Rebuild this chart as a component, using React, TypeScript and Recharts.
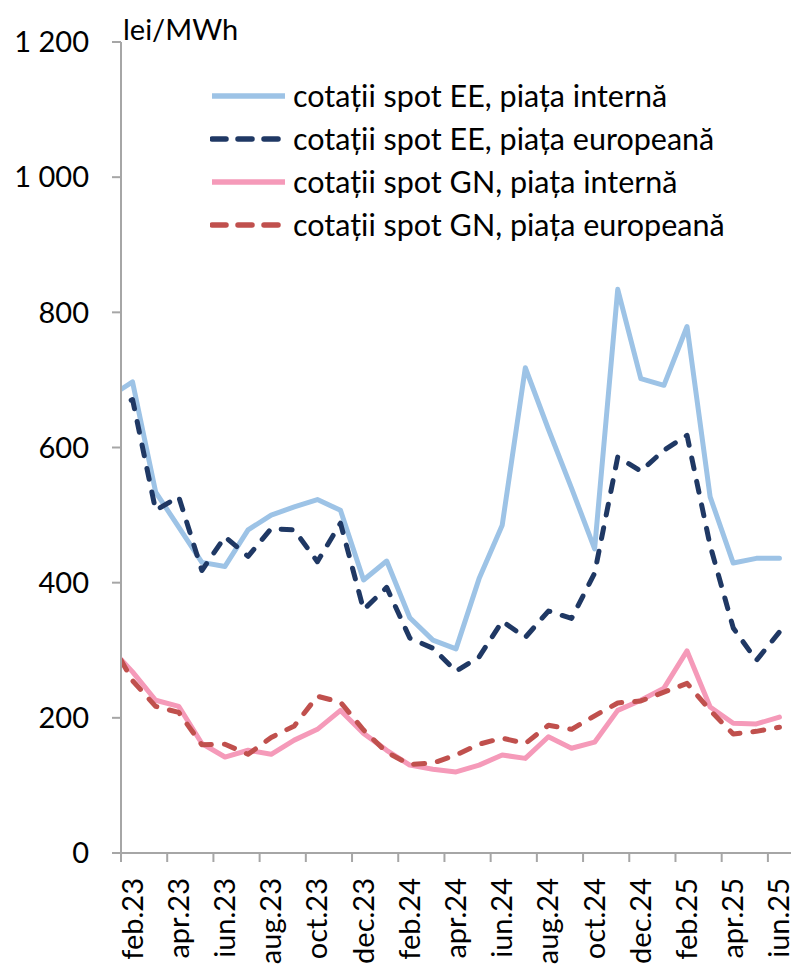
import { LineChart, Line, XAxis, YAxis, Legend } from "recharts"

// luni (ian.23 e doar ca linia să intre din stânga axei, e tăiată de zona graficului)
const months = [
  "ian.23", "feb.23", "mar.23", "apr.23", "mai.23", "iun.23", "iul.23", "aug.23",
  "sep.23", "oct.23", "noi.23", "dec.23", "ian.24", "feb.24", "mar.24", "apr.24",
  "mai.24", "iun.24", "iul.24", "aug.24", "sep.24", "oct.24", "noi.24", "dec.24",
  "ian.25", "feb.25", "mar.25", "apr.25", "mai.25", "iun.25"
]

const tickLabels = [
  "feb.23", "apr.23", "iun.23", "aug.23", "oct.23", "dec.23", "feb.24", "apr.24",
  "iun.24", "aug.24", "oct.24", "dec.24", "feb.25", "apr.25", "iun.25"
]

const yTicks = [0, 200, 400, 600, 800, 1000, 1200]

const eeIntern = [675, 697, 534, 482, 430, 424, 478, 500, 512, 523, 507, 404, 432, 348, 315, 302, 406, 485, 718, 627, 540, 450, 834, 702, 692, 779, 527, 429, 436, 436]
const eeEuropean = [655, 671, 507, 527, 418, 468, 439, 480, 478, 431, 488, 360, 393, 318, 303, 269, 290, 343, 319, 358, 347, 414, 586, 565, 596, 618, 455, 333, 285, 327]
const gnIntern = [305, 268, 226, 217, 162, 142, 152, 146, 167, 183, 211, 177, 152, 130, 124, 120, 130, 145, 140, 172, 155, 164, 211, 226, 244, 299, 216, 192, 191, 201]
const gnEuropean = [316, 255, 217, 208, 160, 161, 146, 171, 188, 232, 223, 182, 149, 131, 133, 145, 161, 170, 162, 189, 183, 203, 222, 225, 238, 251, 211, 176, 180, 186]

const series = [
  { key: "eeIntern", name: "cotații spot EE, piața internă", color: "#9DC3E6", dashed: false },
  { key: "eeEuropean", name: "cotații spot EE, piața europeană", color: "#1F3864", dashed: true },
  { key: "gnIntern", name: "cotații spot GN, piața internă", color: "#F59AB9", dashed: false },
  { key: "gnEuropean", name: "cotații spot GN, piața europeană", color: "#C0504D", dashed: true }
]

const data = months.map((m, i) => ({
  idx: i,
  month: m,
  eeIntern: eeIntern[i],
  eeEuropean: eeEuropean[i],
  gnIntern: gnIntern[i],
  gnEuropean: gnEuropean[i]
}))

const W = 793
const H = 965
const MARGIN = { top: 42, right: 2, left: 0, bottom: 0 }
const Y_AXIS_W = 121
const X_AXIS_H = 112
const AXIS = "#A6A6A6"
const FONT = "Lato"
const HALF_STEP = (W - MARGIN.left - MARGIN.right - Y_AXIS_W) / (months.length - 1) / 2

function formatY(v: number) {
  if (v >= 1000) return `${Math.floor(v / 1000)} ${String(v % 1000).padStart(3, "0")}`
  return String(v)
}

// tick mark la granița dintre luni, eticheta la mijlocul lunii
function XTick(props: any) {
  const { x, y, payload } = props
  return (
    <g>
      <line x1={x - HALF_STEP} x2={x - HALF_STEP} y1={y} y2={y + 9} stroke={AXIS} strokeWidth={2} />
      <text
        transform={`translate(${x},${y + 25}) rotate(-90)`}
        textAnchor="end"
        dy={10}
        fontSize={29}
        fontFamily={FONT}
        fill="#000"
      >
        {months[payload.value]}
      </text>
    </g>
  )
}

function LegendBox() {
  return (
    <div>
      {series.map((s) => (
        <div key={s.key} style={{ display: "flex", alignItems: "center", height: 43 }}>
          <svg width={77} height={10}>
            <line
              x1={2}
              x2={75}
              y1={5}
              y2={5}
              stroke={s.color}
              strokeWidth={5.5}
              strokeDasharray={s.dashed ? "14 12" : undefined}
              strokeLinecap={s.dashed ? "round" : "butt"}
            />
          </svg>
          <span
            style={{
              marginLeft: 6,
              fontFamily: FONT,
              fontSize: 30.5,
              color: "#000",
              whiteSpace: "nowrap",
              lineHeight: 1
            }}
          >
            {s.name}
          </span>
        </div>
      ))}
    </div>
  )
}

export default function App() {
  return (
    <div style={{ position: "absolute", left: 0, top: 0, width: W, height: H, background: "#fff" }}>
      <LineChart width={W} height={H} data={data} margin={MARGIN} style={{ fontFamily: FONT }}>
        <XAxis
          dataKey="idx"
          type="number"
          domain={[0.5, months.length - 0.5]}
          allowDataOverflow
          ticks={tickLabels.map((l) => months.indexOf(l))}
          interval={0}
          tick={<XTick />}
          tickLine={false}
          tickSize={0}
          tickMargin={0}
          height={X_AXIS_H}
          axisLine={{ stroke: AXIS, strokeWidth: 2 }}
        />
        <YAxis
          domain={[0, 1200]}
          ticks={yTicks}
          interval={0}
          width={Y_AXIS_W}
          tickFormatter={formatY}
          tick={{ fill: "#000", fontSize: 29, fontFamily: FONT }}
          tickSize={9}
          tickMargin={23}
          tickLine={{ stroke: AXIS, strokeWidth: 2 }}
          axisLine={{ stroke: AXIS, strokeWidth: 2 }}
          label={{
            content: (p: any) => (
              <text
                x={p.viewBox.x + p.viewBox.width + 2}
                y={p.viewBox.y - 2}
                fontSize={29}
                fontFamily={FONT}
                fill="#000"
              >
                lei/MWh
              </text>
            )
          }}
        />
        <Legend
          layout="vertical"
          align="center"
          verticalAlign="middle"
          wrapperStyle={{ left: 210, top: 74, width: 570 }}
          content={<LegendBox />}
        />
        {series.map((s) => (
          <Line
            key={s.key}
            type="linear"
            dataKey={s.key}
            name={s.name}
            stroke={s.color}
            strokeWidth={5}
            strokeDasharray={s.dashed ? "11 13" : undefined}
            strokeLinecap="round"
            strokeLinejoin="round"
            dot={false}
            activeDot={false}
            isAnimationActive={false}
          />
        ))}
      </LineChart>
    </div>
  )
}
